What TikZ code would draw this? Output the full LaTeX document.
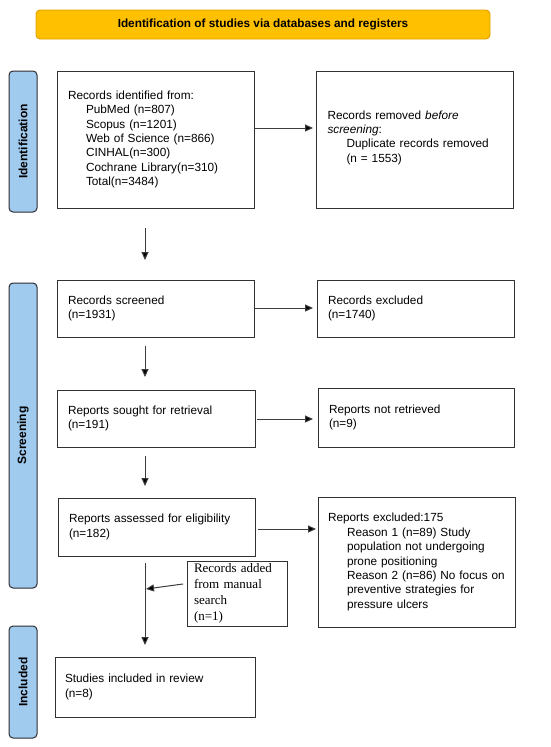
\documentclass[tikz,border=0pt]{standalone}
\usepackage{fontspec}
\setmainfont{Liberation Sans}
\newfontfamily\timesfont{Liberation Serif}
\usetikzlibrary{arrows.meta,calc}
\definecolor{bannerfill}{RGB}{255,192,0}
\definecolor{bannerdraw}{RGB}{224,160,0}
\definecolor{sidefill}{RGB}{160,202,238}
\definecolor{sidedraw}{RGB}{45,45,50}
\definecolor{boxdraw}{RGB}{50,50,50}
\definecolor{arrdraw}{RGB}{60,60,60}
\begin{document}
\begin{tikzpicture}[x=1pt,y=-1pt,
  every node/.style={inner sep=0pt, outer sep=0pt},
  txt/.style={font=\fontsize{11.8}{14.4}\selectfont},
  flowbox/.style={draw=boxdraw, line width=0.9pt, fill=white, txt, align=left, anchor=north west},
  banner/.style={draw=bannerdraw, line width=0.9pt, fill=bannerfill, rounded corners=4pt, font=\bfseries\fontsize{11.8}{14}\selectfont},
  sidebar/.style={draw=sidedraw, line width=1pt, fill=sidefill, rounded corners=4pt},
  sidelabel/.style={rotate=90, font=\bfseries\fontsize{12}{14}\selectfont},
  arr/.style={draw=arrdraw, line width=1pt, -{Triangle[length=8pt,width=7pt,fill=black]}}
]
\useasboundingbox (0,0) rectangle (550,747);
\fill[white] (0,0) rectangle (550,747);

% banner
\node[banner, minimum width=454pt, minimum height=29pt] (ban) at (263,24.5) {Identification of studies via databases and registers};

% sidebars
\node[sidebar, minimum width=28pt, minimum height=141pt] (sid) at (23,141.5) {};
\node[sidelabel] (sidl) at (sid.center) {Identification};
\node[sidebar, minimum width=28pt, minimum height=305pt] (sscr) at (23,435.5) {};
\node[sidelabel] (sscrl) at (sscr.center) {Screening};
\node[sidebar, minimum width=28pt, minimum height=112pt] (sinc) at (23,682) {};
\node[sidelabel] (sincl) at (sinc.center) {Included};

% boxes
\node[flowbox, minimum width=197pt, minimum height=137pt, text width=175pt, inner xsep=11pt] (ident) at (57,71)
 {Records identified from:\\
 \hspace*{18pt}PubMed (n=807)\\
 \hspace*{18pt}Scopus (n=1201)\\
 \hspace*{18pt}Web of Science (n=866)\\
 \hspace*{18pt}CINHAL(n=300)\\
 \hspace*{18pt}Cochrane Library(n=310)\\
 \hspace*{18pt}Total(n=3484)};
\node[flowbox, minimum width=197pt, minimum height=137pt, text width=174pt, inner xsep=11.5pt] (removed) at (316,71)
 {Records removed \textit{before}\\
 \textit{screening}:\\
 \hspace*{19pt}Duplicate records removed\\
 \hspace*{19pt}(n = 1553)\\[-8.4pt]\mbox{}};

\node[flowbox, minimum width=197pt, minimum height=57pt, text width=175pt, inner xsep=11pt] (scr) at (57,280)
 {Records screened\\(n=1931)};
\node[flowbox, minimum width=197pt, minimum height=57pt, text width=175pt, inner xsep=11pt] (exc) at (317,280)
 {Records excluded\\(n=1740)};

\node[flowbox, minimum width=198pt, minimum height=57pt, text width=176pt, inner xsep=11pt] (sought) at (57,390)
 {Reports sought for retrieval\\(n=191)};
\node[flowbox, minimum width=196pt, minimum height=59pt, text width=174pt, inner xsep=11pt] (notret) at (318,388)
 {Reports not retrieved\\(n=9)};

\node[flowbox, minimum width=197pt, minimum height=58pt, text width=175pt, inner xsep=10pt] (assess) at (58,498)
 {Reports assessed for eligibility\\(n=182)};
\node[flowbox, minimum width=197pt, minimum height=130pt, text width=177pt, inner xsep=10pt] (repexc) at (318,497)
 {Reports excluded:175\\
 \hspace*{19pt}Reason 1 (n=89) Study\\
 \hspace*{19pt}population not undergoing\\
 \hspace*{19pt}prone positioning\\
 \hspace*{19pt}Reason 2 (n=86) No focus on\\
 \hspace*{19pt}preventive strategies for\\
 \hspace*{19pt}pressure ulcers};

\node[flowbox, minimum width=94pt, minimum height=65pt, text width=86pt, inner xsep=7pt, font=\timesfont\fontsize{13}{16}\selectfont] (added) at (187,561)
 {Records added\\from manual\\search\\(n=1)};

\node[flowbox, minimum width=197pt, minimum height=60pt, text width=180pt, inner xsep=10pt] (incl) at (55,657)
 {Studies included in review\\(n=8)};

% arrows
\coordinate (ax) at (145,0);
\coordinate (y1) at (0,128);
\coordinate (y2) at (0,308);
\coordinate (y3) at (0,419);
\coordinate (y4) at (0,529);
\coordinate (mtip) at (146,589);

\draw[arr, shorten <=20pt, shorten >=20pt] (ident.south -| ax) -- (scr.north -| ax);
\draw[arr, shorten <=9pt, shorten >=13pt] (scr.south -| ax) -- (sought.north -| ax);
\draw[arr, shorten <=9pt, shorten >=12pt] (sought.south -| ax) -- (assess.north -| ax);
\draw[arr, shorten <=7pt, shorten >=12pt] (assess.south -| ax) -- (incl.north -| ax);

\draw[arr, shorten <=1pt, shorten >=3pt] (ident.east |- y1) -- (removed.west |- y1);
\draw[arr, shorten <=1pt, shorten >=4pt] (scr.east |- y2) -- (exc.west |- y2);
\draw[arr, shorten <=1.5pt, shorten >=5pt] (sought.east |- y3) -- (notret.west |- y3);
\draw[arr, shorten <=3pt, shorten >=2pt] (assess.east |- y4) -- (repexc.west |- y4);

\draw[arr] ($(added.west)+(-4,-9.5)$) -- (mtip);
\end{tikzpicture}
\end{document}
